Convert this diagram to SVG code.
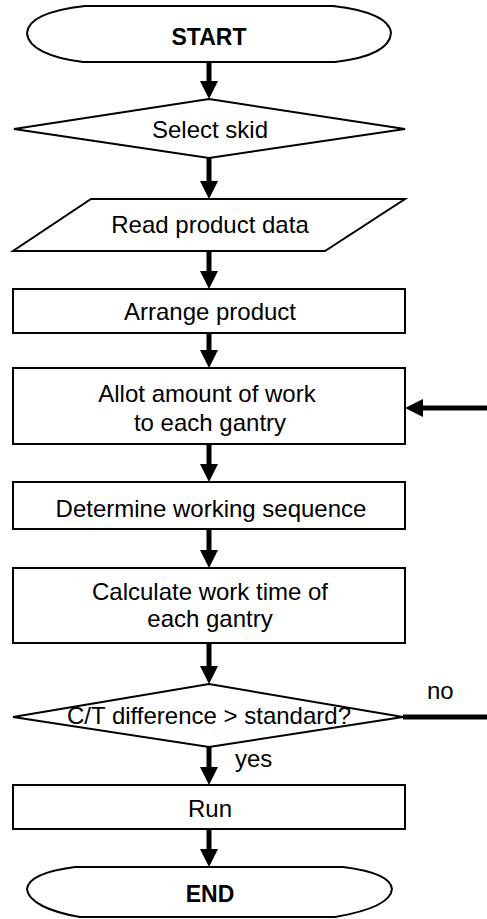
<svg xmlns="http://www.w3.org/2000/svg" width="487" height="919" viewBox="0 0 487 919">
<style>
.s{fill:#fff;stroke:#000;stroke-width:2}
.t{font-family:"Liberation Sans",Arial,sans-serif;font-size:24px;fill:#000;text-anchor:middle}
.b{font-weight:bold;font-size:23px}
.c{fill:none;stroke:#000;stroke-width:5}
</style>
<defs>
<marker id="ah" markerUnits="userSpaceOnUse" markerWidth="18" markerHeight="18" viewBox="0 0 18 18" refX="8" refY="9" orient="auto">
<path d="M0,0 L18,9 L0,18 Z" fill="#000"/>
</marker>
</defs>
<rect width="487" height="919" fill="#fff"/>
<g id="start">
<path class="s" d="M85,6 L333,6 C370,10 390,20 391,33 C390,48 370,58 335,62 L83,62 C50,58 28,48 27,33 C28,18 50,10 85,6 Z"/>
<text class="t b" x="209" y="45">START</text>
</g>
<g id="select">
<polygon class="s" points="209,99 405,129 209,158 14,129"/>
<text class="t" x="210" y="138">Select skid</text>
</g>
<g id="read">
<polygon class="s" points="91,199 405,199 325,251 13,251"/>
<text class="t" x="210" y="233">Read product data</text>
</g>
<g id="arrange">
<rect class="s" x="13" y="289" width="392" height="44"/>
<text class="t" x="210" y="320">Arrange product</text>
</g>
<g id="allot">
<rect class="s" x="13" y="368" width="392" height="76"/>
<text class="t" x="207" y="402">Allot amount of work</text>
<text class="t" x="210" y="431">to each gantry</text>
</g>
<g id="determine">
<rect class="s" x="13" y="482" width="392" height="47"/>
<text class="t" x="211" y="517">Determine working sequence</text>
</g>
<g id="calculate">
<rect class="s" x="13" y="568" width="392" height="75"/>
<text class="t" x="210" y="600">Calculate work time of</text>
<text class="t" x="210" y="627">each gantry</text>
</g>
<g id="decision">
<polygon class="s" points="209,684 403,717 209,747 13,717"/>
<text class="t" x="209" y="724">C/T difference &gt; standard?</text>
</g>
<g id="run">
<rect class="s" x="13" y="785" width="392" height="44"/>
<text class="t" x="210" y="817">Run</text>
</g>
<g id="end">
<path class="s" d="M75,867 L343,867 C375,871 391,878 392,889 C391,902 370,911 335,917 L80,917 C50,912 28,902 27,889 C28,878 45,871 75,867 Z"/>
<text class="t b" x="210" y="902">END</text>
</g>
<g id="connectors">
<line class="c" x1="209" y1="62" x2="209" y2="89" marker-end="url(#ah)"/>
<line class="c" x1="209" y1="158" x2="209" y2="189" marker-end="url(#ah)"/>
<line class="c" x1="209" y1="251" x2="209" y2="279" marker-end="url(#ah)"/>
<line class="c" x1="209" y1="333" x2="209" y2="358" marker-end="url(#ah)"/>
<line class="c" x1="209" y1="444" x2="209" y2="472" marker-end="url(#ah)"/>
<line class="c" x1="209" y1="529" x2="209" y2="558" marker-end="url(#ah)"/>
<line class="c" x1="209" y1="643" x2="209" y2="674" marker-end="url(#ah)"/>
<line class="c" x1="209" y1="747" x2="209" y2="775" marker-end="url(#ah)"/>
<line class="c" x1="209" y1="829" x2="209" y2="857" marker-end="url(#ah)"/>
<line class="c" x1="487" y1="408" x2="415" y2="408" marker-end="url(#ah)"/>
<line class="c" x1="403" y1="717" x2="487" y2="717" stroke-width="4"/>
<text class="t" x="427" y="699" text-anchor="start" style="text-anchor:start">no</text>
<text class="t" x="235" y="767" style="text-anchor:start">yes</text>
</g>
</svg>
